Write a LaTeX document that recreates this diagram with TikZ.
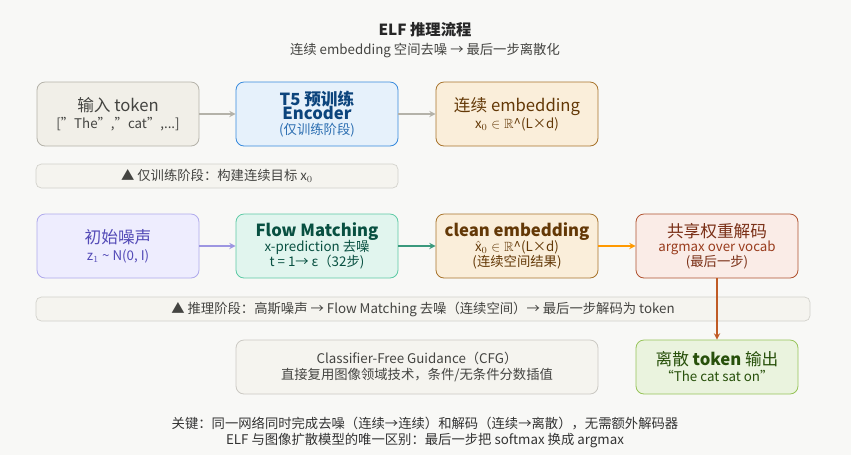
\documentclass[tikz,border=0pt]{standalone}
\usepackage{fontspec}
\setmainfont{Noto Sans CJK SC}
\usepackage{amssymb}
\usetikzlibrary{positioning}
\definecolor{grayF}{HTML}{F1EFE8}\definecolor{grayD}{HTML}{B4B2A9}\definecolor{grayT}{HTML}{444441}
\definecolor{blueF}{HTML}{E6F1FB}\definecolor{blueD}{HTML}{378ADD}\definecolor{blueT}{HTML}{0C447C}
\definecolor{oraF}{HTML}{FAEEDA}\definecolor{oraD}{HTML}{A8742C}\definecolor{oraT}{HTML}{633806}
\definecolor{purF}{HTML}{EEEDFE}\definecolor{purD}{HTML}{AFA9EC}\definecolor{purT}{HTML}{534AB7}
\definecolor{teaF}{HTML}{E1F5EE}\definecolor{teaD}{HTML}{5DCAA5}\definecolor{teaT}{HTML}{085041}
\definecolor{redF}{HTML}{FAECE7}\definecolor{redD}{HTML}{B0522F}\definecolor{redT}{HTML}{993C1D}
\definecolor{grnF}{HTML}{EAF3DE}\definecolor{grnD}{HTML}{97C459}\definecolor{grnT}{HTML}{27500A}
\definecolor{bg}{HTML}{F8F8F6}
\newcommand\subf{\fontsize{10}{11.5}\selectfont}
\tikzset{
  box/.style={draw, rounded corners=6pt, minimum width=121.5pt, minimum height=48pt,
    align=center, font=\fontsize{12.5}{14}\selectfont, line width=0.6pt},
  note/.style={draw=grayD!60, fill=grayF!70, rounded corners=4pt, minimum height=18pt,
    font=\fontsize{10}{11}\selectfont, text=grayT, line width=0.5pt},
  sub/.style={font=\fontsize{10}{12}\selectfont},
  arr/.style={->, line width=1.1pt, >=stealth},
}
\begin{document}
\begin{tikzpicture}[x=0.75pt,y=-0.75pt]
    \fill[bg] (0,0) rectangle (851,455);
    \useasboundingbox (0,0) rectangle (851,455);

    \node[font=\bfseries\fontsize{11.5}{13}\selectfont, text=black!85] (title) at (425,30) {ELF 推理流程};
    \node[sub, text=grayT] (subtitle) at (425,51) {连续 embedding 空间去噪 → 最后一步离散化};

    % training row
    \node[box, fill=grayF, draw=grayD, text=grayT] (input) at (118,114)
      {输入 token\\[-1pt]{\subf ["The","cat",...]}};
    \node[box, fill=blueF, draw=blueD, text=blueT] (t5) at (317,114)
      {\textbf{T5 预训练}\\[-3pt]\textbf{Encoder}\\[-3pt]{\subf\color{blueD!80!black}(仅训练阶段)}};
    \node[box, fill=oraF, draw=oraD, text=oraT] (cont) at (517,114)
      {连续 embedding\\[-1pt]{\subf $\mathrm{x}_0\in\mathbb{R}$\^{}(L×d)}};
    \node[note, minimum width=271.5pt] (note1) at (217,176) {▲ 仅训练阶段：构建连续目标 $\mathrm{x}_0$};

    % inference row
    \node[box, fill=purF, draw=purD, text=purT] (noise) at (118,246)
      {初始噪声\\[-1pt]{\subf $\mathrm{z}_1$ \textasciitilde{} N(0, I)}};
    \node[box, fill=teaF, draw=teaD, text=teaT] (flow) at (317,246)
      {\textbf{Flow Matching}\\[-3pt]{\subf x-prediction 去噪}\\[-3pt]{\subf t = 1→ ε（32步)}};
    \node[box, fill=oraF, draw=oraD, text=oraT] (clean) at (517,246)
      {\textbf{clean embedding}\\[-3pt]{\subf $\hat{\mathrm{x}}_0\in\mathbb{R}$\^{}(L×d)}\\[-3pt]{\subf (连续空间结果)}};
    \node[box, fill=redF, draw=redD, text=redT!80!black] (decode) at (717,246)
      {共享权重解码\\[-3pt]{\subf\color{redT} argmax over vocab}\\[-3pt]{\subf (最后一步)}};
    \node[note, minimum width=580.5pt] (note2) at (423,309)
      {▲ 推理阶段：高斯噪声 → Flow Matching 去噪（连续空间）→ 最后一步解码为 token};

    % bottom row
    \node[box, fill=grayF!70, draw=grayD!70, text=grayT, minimum width=271.5pt, minimum height=40.5pt,
      font=\fontsize{10}{12.5}\selectfont] (cfg) at (417,367)
      {Classifier-Free Guidance（CFG）\\直接复用图像领域技术，条件/无条件分数插值};
    \node[box, fill=grnF, draw=grnD, text=grnT, minimum height=40.5pt] (out) at (717,367)
      {离散 \textbf{token} 输出\\[-2pt]{\subf ``The cat sat on''}};

    \draw[arr, grayD] (input) -- (t5);
    \draw[arr, grayD] (t5) -- (cont);
    \draw[arr, purD!80!purT] (noise) -- (flow);
    \draw[arr, teaD!60!teaT] (flow) -- (clean);
    \draw[arr, orange!80!yellow] (clean) -- (decode);
    \draw[arr, redD!80!orange] (decode) -- (out);

    \node[sub, text=black!80, align=center] (footer) at (425,432)
      {关键：同一网络同时完成去噪（连续→连续）和解码（连续→离散），无需额外解码器\\
       ELF 与图像扩散模型的唯一区别：最后一步把 softmax 换成 argmax};
\end{tikzpicture}
\end{document}
